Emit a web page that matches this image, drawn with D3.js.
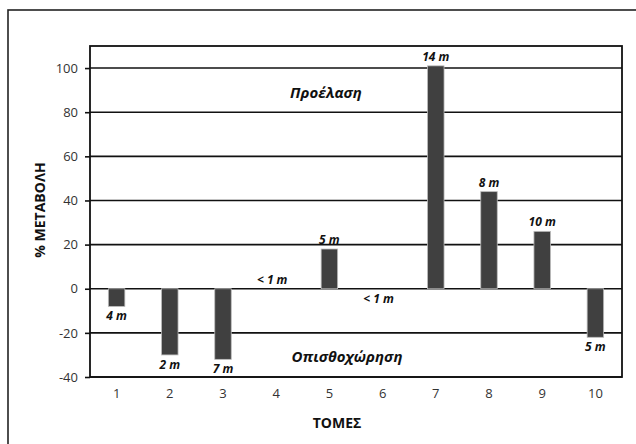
<!DOCTYPE html>
<html><head><meta charset="utf-8">
<script src="https://cdn.jsdelivr.net/npm/d3@7"></script>
<style>body{margin:0;background:#fff}svg{display:block}</style>
</head><body>
<svg id="c" width="636" height="444"></svg>
<script>
const categories = ["1","2","3","4","5","6","7","8","9","10"];
const values = [-8, -30, -32, 0, 18, 0, 101, 44, 26, -22];
const labels = ["4 m","2 m","7 m","< 1 m","5 m","< 1 m","14 m","8 m","10 m","5 m"];
const labelAbove = [false,false,false,true,true,false,true,true,true,false];
const yTicks = [-40,-20,0,20,40,60,80,100];

const svg = d3.select("#c");
const font = "'Open Sans', 'Liberation Sans', sans-serif";
const m = {l:90, t:46, r:622, b:377};
const x = d3.scaleBand().domain(categories).range([m.l, m.r]).paddingInner(0.69).paddingOuter(0.345);
const xc = d3.scaleBand().domain(categories).range([m.l, m.r]);
const y = d3.scaleLinear().domain([-40,110]).range([m.b, m.t]);

// outer frame
svg.append("rect").attr("x",8).attr("y",10).attr("width",640).attr("height",450)
  .attr("fill","none").attr("stroke","#222").attr("stroke-width",1.6);

// gridlines
svg.append("g").selectAll("line").data(yTicks).join("line")
  .attr("x1",m.l).attr("x2",m.r).attr("y1",d=>y(d)).attr("y2",d=>y(d))
  .attr("stroke","#111").attr("stroke-width",1.6);

// bars
svg.append("g").selectAll("rect").data(values).join("rect")
  .attr("x",(d,i)=>x(categories[i]))
  .attr("width",x.bandwidth())
  .attr("y",d=>y(Math.max(0,d)))
  .attr("height",d=>Math.abs(y(d)-y(0)))
  .attr("fill","#404040").attr("stroke","#bbb").attr("stroke-width",0.8);

// plot border
svg.append("rect").attr("x",m.l).attr("y",m.t).attr("width",m.r-m.l).attr("height",m.b-m.t)
  .attr("fill","none").attr("stroke","#111").attr("stroke-width",1.8);

// y axis
const ya = svg.append("g").attr("transform",`translate(${m.l},0)`)
  .call(d3.axisLeft(y).tickValues(yTicks).tickFormat(d=>String(d)).tickSize(5).tickPadding(7));
ya.select(".domain").remove();
ya.selectAll("line").attr("stroke","#111").attr("stroke-width",1.6);
ya.selectAll("text").attr("font-family",font).attr("font-size",13).attr("fill","#333");

// x axis
const xa = svg.append("g").attr("transform",`translate(0,${m.b})`)
  .call(d3.axisBottom(xc).tickSize(0).tickPadding(12));
xa.select(".domain").remove();
xa.selectAll("text").attr("font-family",font).attr("font-size",13).attr("fill","#333");

// data labels
svg.append("g").selectAll("text").data(values).join("text")
  .attr("x",(d,i)=>xc(categories[i])+xc.bandwidth()/2 - (labels[i].startsWith("<")?4:0))
  .attr("y",(d,i)=>labelAbove[i] ? y(d)-5 : y(d)+14)
  .attr("text-anchor","middle")
  .attr("font-family",font).attr("font-size",12).attr("font-weight","bold").attr("font-style","italic")
  .attr("fill","#111").text((d,i)=>labels[i]);

// annotations
svg.append("text").attr("x",326).attr("y",98).attr("text-anchor","middle")
  .attr("font-family",font).attr("font-size",15).attr("font-weight","bold").attr("font-style","italic")
  .attr("fill","#111").text("Προέλαση");
svg.append("text").attr("x",347).attr("y",362).attr("text-anchor","middle")
  .attr("font-family",font).attr("font-size",15).attr("font-weight","bold").attr("font-style","italic")
  .attr("fill","#111").text("Οπισθοχώρηση");

// axis titles
svg.append("text").attr("transform","translate(45,210) rotate(-90)").attr("text-anchor","middle")
  .attr("font-family",font).attr("font-size",14).attr("font-weight","bold").attr("fill","#111")
  .text("% ΜΕΤΑΒΟΛΗ");
svg.append("text").attr("x",337).attr("y",428).attr("text-anchor","middle")
  .attr("font-family",font).attr("font-size",14).attr("font-weight","bold").attr("fill","#111")
  .text("ΤΟΜΕΣ");
</script>
</body></html>
